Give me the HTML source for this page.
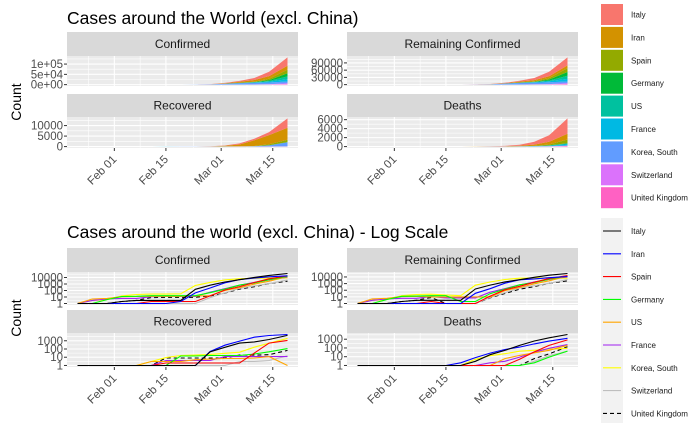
<!DOCTYPE html>
<html><head><meta charset="utf-8">
<style>
html,body{margin:0;padding:0;background:#fff;}
svg{display:block;font-family:"Liberation Sans",Arial,sans-serif;}
</style></head>
<body>
<svg id="chart" width="700" height="432" viewBox="0 0 700 432" xmlns="http://www.w3.org/2000/svg">
<rect x="0" y="0" width="700" height="432" fill="#fff"/>
</svg>
<script>
const countries = ["Italy","Iran","Spain","Germany","US","France","Korea, South","Switzerland","United Kingdom"];
const days = [0,4,8,12,16,20,24,28,32,36,40,44,48,52,57];
const confirmed = [
 [0,0,0,2,3,3,3,3,155,655,2036,4636,10149,21157,41035],
 [0,0,0,0,0,0,0,2,43,245,1501,4747,8042,12729,18407],
 [0,0,0,1,1,2,2,2,2,15,120,400,1695,6391,17963],
 [0,0,4,12,13,16,16,16,16,46,159,670,1457,4585,15320],
 [1,5,6,11,12,13,13,13,15,16,100,278,959,2727,13680],
 [0,3,5,6,6,11,12,12,12,57,191,653,1784,4480,10886],
 [1,3,4,15,24,28,28,31,602,1766,4212,6593,7513,8086,8565],
 [0,0,0,0,0,0,0,0,0,8,42,214,491,1139,4075],
 [0,0,0,2,3,8,9,9,9,15,40,164,382,1144,2716]
];
const recovered = [
 [0,0,0,0,0,0,0,0,1,45,160,523,724,1439,4440],
 [0,0,0,0,0,0,0,0,0,49,291,913,2731,4339,5710],
 [0,0,0,0,0,0,2,2,2,2,2,2,32,517,1107],
 [0,0,0,0,0,1,1,14,14,16,16,16,25,46,113],
 [0,0,0,0,0,3,3,3,5,6,7,7,8,12,0],
 [0,0,0,0,0,0,4,4,4,4,12,12,12,12,12],
 [0,0,0,0,1,3,9,16,18,22,30,41,166,510,1947],
 [0,0,0,0,0,0,0,0,0,0,0,3,3,4,15],
 [0,0,0,0,0,0,8,8,8,8,8,18,18,20,67]
];
const deaths = [
 [0,0,0,0,0,0,0,0,3,17,52,197,631,1441,3405],
 [0,0,0,0,0,0,0,2,8,26,66,124,291,611,1284],
 [0,0,0,0,0,0,0,0,0,0,0,5,35,195,830],
 [0,0,0,0,0,0,0,0,0,0,0,0,2,9,44],
 [0,0,0,0,0,0,0,0,0,0,6,14,28,54,200],
 [0,0,0,0,0,0,1,1,1,2,3,9,33,91,243],
 [0,0,0,0,0,0,0,0,5,13,22,42,54,72,91],
 [0,0,0,0,0,0,0,0,0,0,0,1,3,13,43],
 [0,0,0,0,0,0,0,0,0,0,0,1,6,21,138]
];
const dateTickDays = [10,24,39,53];
const dateTickLabels = ["Feb 01","Feb 15","Mar 01","Mar 15"];
const confTicks = [0,50000,100000];
const confTickLabels = ["0e+00","5e+04","1e+05"];
const remTicks = [0,30000,60000,90000];
const recTicks = [0,5000,10000];
const deathTicks = [0,2000,4000,6000];
const logTicksConf = [1,10,100,1000,10000];
const logTicksOther = [1,10,100,1000];

const fillColors = ["#F8766D","#D39200","#93AA00","#00BA38","#00C19F","#00B9E3","#619CFF","#DB72FB","#FF61C3"];
const lineColors = ["#000000","#0000FF","#FF0000","#00FF00","#FFA500","#A020F0","#FFFF00","#BEBEBE","#000000"];

const NS = "http://www.w3.org/2000/svg";
const svg = document.getElementById("chart");
function mk(tag, attrs, parent){
  const e = document.createElementNS(NS, tag);
  for (const k in attrs) e.setAttribute(k, attrs[k]);
  (parent||svg).appendChild(e);
  return e;
}
const remaining = confirmed.map((row,i)=>row.map((v,j)=>Math.max(0, v - recovered[i][j] - deaths[i][j])));

const DMAX = 57;
function xScale(d, x0, w){ const pad = w*0.05/1.1; return x0 + pad + d*(w - 2*pad)/DMAX; }
function linScale(v, max, y0, h){ const pad = h*0.05/1.1; return y0 + h - pad - v*(h-2*pad)/max; }
function logScale(v, lmax, y0, h){ const pad = h*0.05/1.1; const l = Math.log10(Math.max(v,1)); return y0 + h - pad - l*(h-2*pad)/lmax; }

function strip(x0,y0,w,h,label){
  const r = mk("rect",{x:x0,y:y0,width:w,height:h,fill:"#D9D9D9"});
  
  
  const t = mk("text",{x:x0+w/2,y:y0+h/2+4,"text-anchor":"middle","font-size":"12",fill:"#1A1A1A"});
  t.textContent = label;
  
  
}
function panelBg(x0,y0,w,h, yMajor, minorY){
  const r = mk("rect",{x:x0,y:y0,width:w,height:h,fill:"#EBEBEB"});
  
  
  minorY.forEach(y=>mk("line",{x1:x0,x2:x0+w,y1:y,y2:y,stroke:"#fff","stroke-width":0.6}));
  [3,17,31.5,46].forEach(d=>{const x=xScale(d,x0,w);mk("line",{x1:x,x2:x,y1:y0,y2:y0+h,stroke:"#fff","stroke-width":0.6});});
  yMajor.forEach(y=>mk("line",{x1:x0,x2:x0+w,y1:y,y2:y,stroke:"#fff","stroke-width":1.1}));
  dateTickDays.forEach(d=>{const x=xScale(d,x0,w);mk("line",{x1:x,x2:x,y1:y0,y2:y0+h,stroke:"#fff","stroke-width":1.1});});
}
function yAxis(x0, ys, labels){
  ys.forEach((y,i)=>{
    mk("line",{x1:x0-3,x2:x0,y1:y,y2:y,stroke:"#333","stroke-width":1});
    const t = mk("text",{x:x0-4,y:y+4,"text-anchor":"end","font-size":"11.5",fill:"#4D4D4D"});
    t.textContent = labels[i];
    
    
  });
}
function xAxis(x0,w,yb){
  dateTickDays.forEach((d,i)=>{
    const x = xScale(d,x0,w);
    mk("line",{x1:x,x2:x,y1:yb,y2:yb+3,stroke:"#333","stroke-width":1});
    const t = mk("text",{x:x+3,y:yb+12,"text-anchor":"end","font-size":"11.5",fill:"#4D4D4D",transform:`rotate(-45 ${x+3} ${yb+12})`});
    t.textContent = dateTickLabels[i];
    
    
  });
}
function stackedPanel(x0,y0,w,h,data,ticks,tickLabels){
  const n = days.length;
  let cum = new Array(n).fill(0);
  const layers = [];
  for (let i=countries.length-1;i>=0;i--){
    const lo = cum.slice();
    cum = cum.map((c,j)=>c+data[i][j]);
    layers.push({i, lo, hi: cum.slice()});
  }
  const max = Math.max(...cum);
  const ys = ticks.map(t=>linScale(t,max,y0,h));
  const minor = [];
  for (let k=0;k<ticks.length;k++){ const mid = ticks[k] + (ticks[1]-ticks[0])/2; if (mid<max*1.05) minor.push(linScale(mid,max,y0,h)); }
  panelBg(x0,y0,w,h,ys,minor);
  layers.forEach(L=>{
    let dstr = "";
    days.forEach((d,j)=>{ dstr += (j?"L":"M")+xScale(d,x0,w).toFixed(1)+","+linScale(L.hi[j],max,y0,h).toFixed(1); });
    for (let j=n-1;j>=0;j--) dstr += "L"+xScale(days[j],x0,w).toFixed(1)+","+linScale(L.lo[j],max,y0,h).toFixed(1);
    const p = mk("path",{d:dstr+"Z",fill:fillColors[L.i],stroke:"none"});
    
    
  });
  yAxis(x0, ys, tickLabels);
}
function logPanel(x0,y0,w,h,data,ticks){
  let mx = 1;
  data.forEach(r=>r.forEach(v=>{ if (v>mx) mx=v; }));
  const lmax = Math.log10(mx);
  const ys = ticks.map(t=>logScale(t,lmax,y0,h));
  const minor = [];
  for (let k=0;k<ticks.length;k++){ const mid = Math.pow(10, Math.log10(ticks[k])+0.5); if (Math.log10(mid)<lmax*1.04) minor.push(logScale(mid,lmax,y0,h)); }
  panelBg(x0,y0,w,h,ys,minor);
  for (let i=countries.length-1;i>=0;i--){
    let dstr = "";
    days.forEach((d,j)=>{
      const x = xScale(d,x0,w).toFixed(1), y = logScale(data[i][j],lmax,y0,h).toFixed(1);
      dstr += (j?"L":"M")+x+","+y;
    });
    const attrs = {d:dstr,fill:"none",stroke:lineColors[i],"stroke-width":1.1};
    if (i===8) attrs["stroke-dasharray"]="4,3";
    const p = mk("path",attrs);
    
    
  }
  yAxis(x0, ys, ticks.map(String));
}

const C1 = 67, C2 = 347, W = 231;
let t = mk("text",{x:67,y:24,"font-size":"17.5",fill:"#000"});
t.textContent = "Cases around the World (excl. China)";


strip(C1,32,W,24,"Confirmed"); strip(C2,32,W,24,"Remaining Confirmed");
strip(C1,94,W,23,"Recovered"); strip(C2,94,W,23,"Deaths");
stackedPanel(C1,56,W,30,confirmed,confTicks,confTickLabels);
stackedPanel(C2,56,W,30,remaining,remTicks,remTicks.map(String));
stackedPanel(C1,117,W,31,recovered,recTicks,recTicks.map(String));
stackedPanel(C2,117,W,31,deaths,deathTicks,deathTicks.map(String));
xAxis(C1,W,148); xAxis(C2,W,148);
t = mk("text",{x:21,y:102,"text-anchor":"middle","font-size":"14",fill:"#000",transform:"rotate(-90 21 102)"});
t.textContent = "Count";



t = mk("text",{x:67,y:238,"font-size":"17.5",fill:"#000"});
t.textContent = "Cases around the world (excl. China) - Log Scale";


strip(C1,248,W,24,"Confirmed"); strip(C2,248,W,24,"Remaining Confirmed");
strip(C1,310,W,23,"Recovered"); strip(C2,310,W,23,"Deaths");
logPanel(C1,272,W,33,confirmed,logTicksConf);
logPanel(C2,272,W,33,remaining,logTicksConf);
logPanel(C1,333,W,34,recovered,logTicksOther);
logPanel(C2,333,W,34,deaths,logTicksOther);
xAxis(C1,W,367); xAxis(C2,W,367);
t = mk("text",{x:21,y:318,"text-anchor":"middle","font-size":"14",fill:"#000",transform:"rotate(-90 21 318)"});
t.textContent = "Count";



countries.forEach((c,i)=>{
  const y = 4 + i*22.9;
  const r = mk("rect",{x:601,y:y,width:22,height:21,fill:fillColors[i]});
  
  
  const tx = mk("text",{x:631,y:y+13.5,"font-size":"8",fill:"#1A1A1A"});
  tx.textContent = c;
  
  
});
const lg = mk("rect",{x:601,y:218,width:22,height:205,fill:"#F2F2F2"});


countries.forEach((c,i)=>{
  const y = 231 + i*22.8;
  const attrs = {x1:603,x2:621,y1:y,y2:y,stroke:lineColors[i],"stroke-width":1.1};
  if (i===8) attrs["stroke-dasharray"]="4,3";
  const l = mk("line",attrs);
  
  
  const tx = mk("text",{x:631,y:y+3,"font-size":"8",fill:"#1A1A1A"});
  tx.textContent = c;
  
  
});
</script>
</body></html>
